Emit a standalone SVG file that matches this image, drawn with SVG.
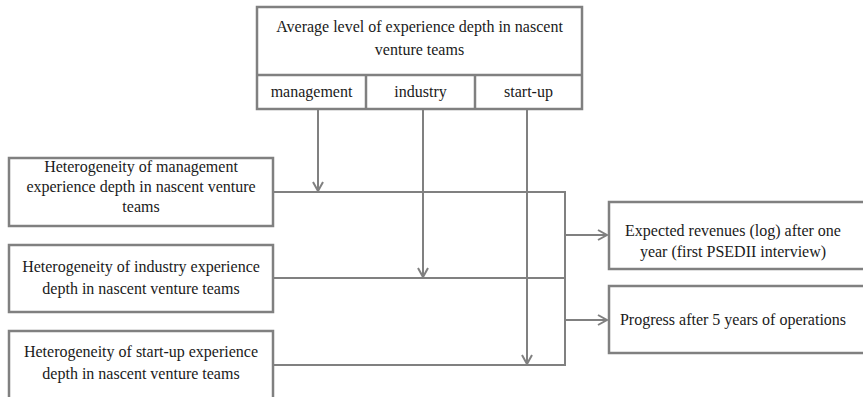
<svg xmlns="http://www.w3.org/2000/svg" width="863" height="397" viewBox="0 0 863 397">
<defs>
<style>
.box{fill:#fff;stroke:#808080;stroke-width:2.5}
.ln{fill:none;stroke:#808080;stroke-width:2}
.t{font-size:16px;fill:#1a1a1a;text-anchor:middle}
</style>
<marker id="ah" markerWidth="12" markerHeight="12" viewBox="0 0 12 12" refX="10" refY="6" orient="auto" markerUnits="userSpaceOnUse">
<path d="M1,1 L10,6 L1,11" fill="none" stroke="#808080" stroke-width="2"/>
</marker>
</defs>
<rect width="863" height="397" fill="#fff"/>
<g id="connectors">
<path class="ln" d="M273,192 H565 V365 H273"/>
<path class="ln" d="M273,278 H565"/>
<path class="ln" d="M318,109 V191" marker-end="url(#ah)"/>
<path class="ln" d="M423,109 V277" marker-end="url(#ah)"/>
<path class="ln" d="M527,109 V364" marker-end="url(#ah)"/>
<path class="ln" d="M565,235 H607" marker-end="url(#ah)"/>
<path class="ln" d="M565,320 H607" marker-end="url(#ah)"/>
</g>
<g id="avg">
<rect class="box" x="257" y="7" width="325" height="102"/>
<line class="ln" x1="257" y1="75" x2="582" y2="75" style="stroke-width:2.5"/>
<line class="ln" x1="366" y1="75" x2="366" y2="109" style="stroke-width:2.5"/>
<line class="ln" x1="475" y1="75" x2="475" y2="109" style="stroke-width:2.5"/>
<text class="t" font-family="Liberation Serif, serif" x="419.5" y="32">Average level of experience depth in nascent</text>
<text class="t" font-family="Liberation Serif, serif" x="419.5" y="55">venture teams</text>
<text class="t" font-family="Liberation Serif, serif" x="311.5" y="97">management</text>
<text class="t" font-family="Liberation Serif, serif" x="420.5" y="97">industry</text>
<text class="t" font-family="Liberation Serif, serif" x="528.5" y="97">start-up</text>
</g>
<g id="het-management">
<rect class="box" x="9" y="158" width="264" height="68"/>
<text class="t" font-family="Liberation Serif, serif" x="141" y="172">Heterogeneity of management</text>
<text class="t" font-family="Liberation Serif, serif" x="141" y="192">experience depth in nascent venture</text>
<text class="t" font-family="Liberation Serif, serif" x="141" y="212">teams</text>
</g>
<g id="het-industry">
<rect class="box" x="9" y="245" width="264" height="67"/>
<text class="t" font-family="Liberation Serif, serif" x="141" y="272">Heterogeneity of industry experience</text>
<text class="t" font-family="Liberation Serif, serif" x="141" y="294">depth in nascent venture teams</text>
</g>
<g id="het-startup">
<rect class="box" x="9" y="331" width="264" height="68"/>
<text class="t" font-family="Liberation Serif, serif" x="141" y="357">Heterogeneity of start-up experience</text>
<text class="t" font-family="Liberation Serif, serif" x="141" y="379">depth in nascent venture teams</text>
</g>
<g id="revenues">
<rect class="box" x="609" y="202" width="262" height="67"/>
<text class="t" font-family="Liberation Serif, serif" x="733" y="236">Expected revenues (log) after one</text>
<text class="t" font-family="Liberation Serif, serif" x="733" y="257">year (first PSEDII interview)</text>
</g>
<g id="progress">
<rect class="box" x="609" y="286" width="262" height="67"/>
<text class="t" font-family="Liberation Serif, serif" x="733" y="325">Progress after 5 years of operations</text>
</g>
</svg>
